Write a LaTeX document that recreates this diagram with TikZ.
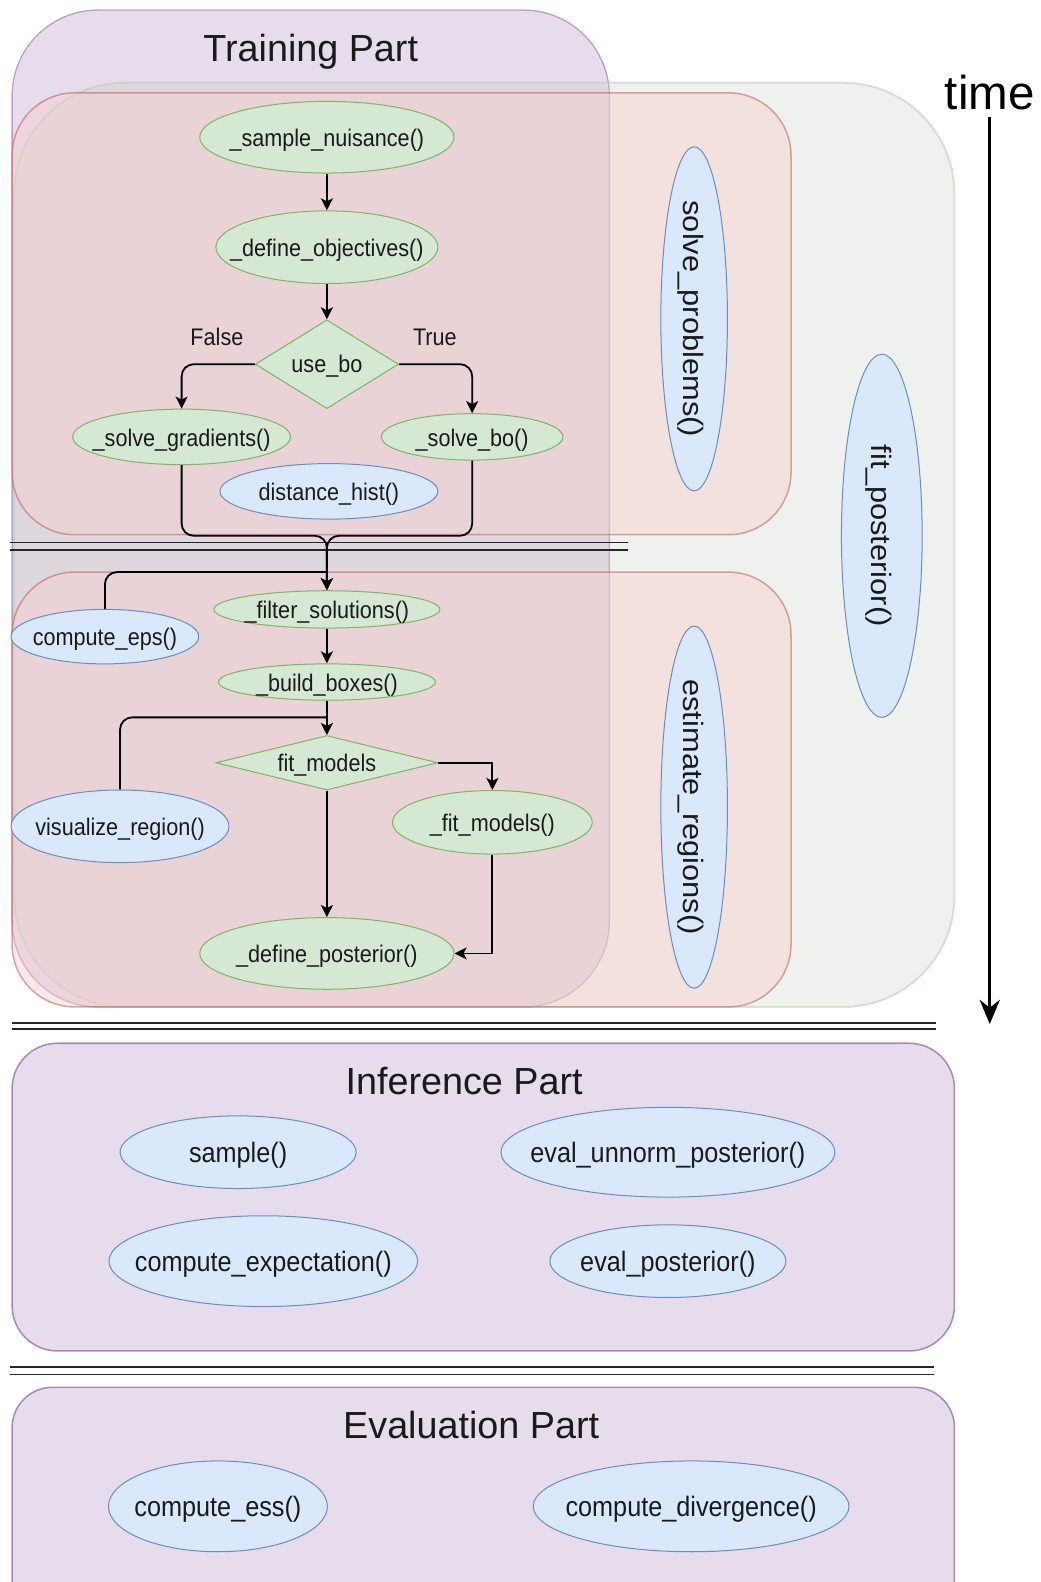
\documentclass[tikz,border=0pt]{standalone}
\usepackage{fontspec}
\setmainfont{Liberation Sans}
\newfontfamily\fnfont[FakeStretch=0.9]{Liberation Sans}
\newfontfamily\stagefont[FakeStretch=1.1]{Liberation Sans}
\usetikzlibrary{shapes.geometric,arrows.meta}
\definecolor{partfill}{HTML}{E1D5E7}
\definecolor{partline}{HTML}{9673A6}
\definecolor{stagefill}{HTML}{F8CECC}
\definecolor{stageline}{HTML}{B85450}
\definecolor{wholefill}{RGB}{200,210,195}
\definecolor{wholeline}{RGB}{185,200,180}
\definecolor{gfill}{HTML}{D5E8D4}
\definecolor{gline}{HTML}{82B366}
\definecolor{bfill}{HTML}{DAE8FC}
\definecolor{bline}{HTML}{6C8EBF}
\definecolor{ink}{HTML}{1A1A1A}
\newcommand\fnsmall{\fnfont\fontsize{23.8}{27}\selectfont}
\newcommand\fnlarge{\fnfont\fontsize{27.8}{31}\selectfont}
\newcommand\fnvert{\stagefont\fontsize{27.8}{31}\selectfont}
\newcommand\parttitle{\fontsize{37.4}{42}\selectfont}
% rounded container: x, y, width, height, corner, looks
\newcommand\partbox[6]{%
    \path[#6,rounded corners=#5pt] (#1,#2) rectangle ++(#3,#4);}
\tikzset{
    fn/.style={ellipse,inner xsep=-40pt,inner ysep=-8pt,text height=21.4pt,text depth=3pt,line width=1pt,text=ink},
    gfn/.style={fn,draw=gline,fill=gfill,font=\fnsmall},
    bfn/.style={fn,draw=bline,fill=bfill,font=\fnsmall},
    bigfn/.style={bfn,font=\fnlarge,text height=23.4pt},
    stagefn/.style={bfn,font=\fnvert,rotate=-90,text height=23.4pt},
    cond/.style={diamond,draw=gline,fill=gfill,line width=1pt,inner sep=-20pt,text height=20pt,text depth=3pt,font=\fnsmall,text=ink},
    flow/.style={-{Stealth[length=12pt,width=12pt,inset=3pt]},line width=1.8pt},
    link/.style={line width=1.8pt,rounded corners=12pt},
    sepline/.style={line width=1.3pt,black!85},
}
\begin{document}
\begin{tikzpicture}[x=1pt,y=-1pt]
    \useasboundingbox (0,0) rectangle (1031,1568);
    \clip (0,0) rectangle (1031,1568);

    % training containers
    \partbox{12}{10}{592}{988}{85}{fill=partfill,fill opacity=0.83,draw=partline,draw opacity=0.6,line width=1.3pt}
    \partbox{14}{82}{932}{916}{110}{fill=wholefill,fill opacity=0.3,draw=wholeline,draw opacity=0.5,line width=2pt}
    \partbox{12}{92}{772}{438}{62}{fill=stagefill,fill opacity=0.45,draw=stageline,draw opacity=0.5,line width=1.5pt}
    \partbox{12}{567}{772}{431}{62}{fill=stagefill,fill opacity=0.45,draw=stageline,draw opacity=0.5,line width=1.5pt}
    \node[font=\parttitle,text=ink,text depth=0pt] (trainTitle) at (308,47) {Training Part};

    % inference and evaluation containers
    \partbox{12}{1034}{934}{305}{45}{fill=partfill,fill opacity=0.83,draw=partline,draw opacity=0.8,line width=1.5pt}
    \partbox{12}{1375}{934}{260}{40}{fill=partfill,fill opacity=0.83,draw=partline,draw opacity=0.8,line width=1.5pt}
    \node[font=\parttitle,text=ink] (inferTitle) at (460,1071) {Inference Part};
    \node[font=\parttitle,text=ink] (evalTitle) at (467,1412) {Evaluation Part};

    % separators
    \foreach \y in {538,545} \draw[sepline] (10,\y) -- (622,\y);
    \foreach \y in {1014,1020} \draw[sepline] (12,\y) -- (928,\y);
    \foreach \y in {1355,1362} \draw[sepline] (10,\y) -- (926,\y);

    % time axis
    \node[font=\fontsize{47.1}{52}\selectfont,inner sep=2pt] (time) at (981,92) {time};
    \coordinate (timeEnd) at (981,1015);
    \draw[-{Stealth[length=24pt,width=20pt]},line width=3pt,shorten <=4pt] (time.south) -- (timeEnd);

    % solve_problems()
    \node[gfn,minimum width=252pt,minimum height=71pt] (sampleNuisance) at (324,136) {\_sample\_nuisance()};
    \node[gfn,minimum width=220pt,minimum height=72pt] (defineObjectives) at (324,245) {\_define\_objectives()};
    \node[cond,minimum width=142pt,minimum height=88pt] (useBo) at (324,361) {use\_bo};
    \node[font=\fnsmall,text=ink] (falseLbl) at (215,334) {False};
    \node[font=\fnsmall,text=ink] (trueLbl) at (431,334) {True};
    \node[gfn,minimum width=216pt,minimum height=55pt] (solveGradients) at (180,433) {\_solve\_gradients()};
    \node[gfn,minimum width=180pt,minimum height=46pt] (solveBo) at (468,433) {\_solve\_bo()};
    \node[bfn,minimum width=216pt,minimum height=55pt] (distanceHist) at (326,487) {distance\_hist()};
    \coordinate (merge) at (324,531);

    % estimate_regions()
    \node[gfn,minimum width=224pt,minimum height=37pt] (filterSolutions) at (324,604) {\_filter\_solutions()};
    \node[bfn,minimum width=186pt,minimum height=54pt] (computeEps) at (104,631) {compute\_eps()};
    \coordinate (epsJoin) at (324,567);
    \node[gfn,minimum width=215pt,minimum height=36pt] (buildBoxes) at (324,676) {\_build\_boxes()};
    \node[cond,minimum width=220pt,minimum height=54pt] (fitModels) at (324,756) {fit\_models};
    \node[bfn,minimum width=216pt,minimum height=72pt] (visualizeRegion) at (119,819) {visualize\_region()};
    \coordinate (visJoin) at (324,711);
    \node[gfn,minimum width=198pt,minimum height=63pt] (fitModelsPriv) at (488,815) {\_fit\_models()};
    \node[gfn,minimum width=252pt,minimum height=71pt] (definePosterior) at (324,945) {\_define\_posterior()};

    % stages
    \node[stagefn,minimum width=341pt,minimum height=66pt] (solveProblems) at (688,316) {solve\_problems()};
    \node[stagefn,minimum width=359pt,minimum height=66pt] (estimateRegions) at (688,800) {estimate\_regions()};
    \node[stagefn,minimum width=360pt,minimum height=80pt] (fitPosterior) at (874,531) {fit\_posterior()};

    % inference and evaluation functions
    \node[bigfn,minimum width=234pt,minimum height=72pt] (sample) at (236,1142) {sample()};
    \node[bigfn,minimum width=331pt,minimum height=89pt] (evalUnnorm) at (662,1142) {eval\_unnorm\_posterior()};
    \node[bigfn,minimum width=306pt,minimum height=90pt] (computeExpectation) at (261,1250) {compute\_expectation()};
    \node[bigfn,minimum width=234pt,minimum height=72pt] (evalPosterior) at (662,1250) {eval\_posterior()};
    \node[bigfn,minimum width=217pt,minimum height=90pt] (computeEss) at (216,1493) {compute\_ess()};
    \node[bigfn,minimum width=313pt,minimum height=90pt] (computeDivergence) at (685,1493) {compute\_divergence()};

    % connectors
    \draw[flow] (sampleNuisance) -- (defineObjectives);
    \draw[flow] (defineObjectives) -- (useBo);
    \draw[flow,rounded corners=12pt] (useBo.west) -| (solveGradients.north);
    \draw[flow,rounded corners=12pt] (useBo.east) -| (solveBo.north);
    \draw[link,flow] (solveGradients.south) |- (merge) -- (filterSolutions.north);
    \draw[link,flow] (solveBo.south) |- (merge) -- (filterSolutions.north);
    \draw[link] (computeEps.north) |- (epsJoin);
    \draw[flow] (filterSolutions) -- (buildBoxes);
    \draw[flow] (buildBoxes) -- (fitModels);
    \draw[link] (visualizeRegion.north) |- (visJoin);
    \draw[flow] (fitModels.east) -| (fitModelsPriv.north);
    \draw[flow] (fitModels.south) -- (definePosterior.north);
    \draw[flow] (fitModelsPriv.south) |- (definePosterior.east);
\end{tikzpicture}
\end{document}
